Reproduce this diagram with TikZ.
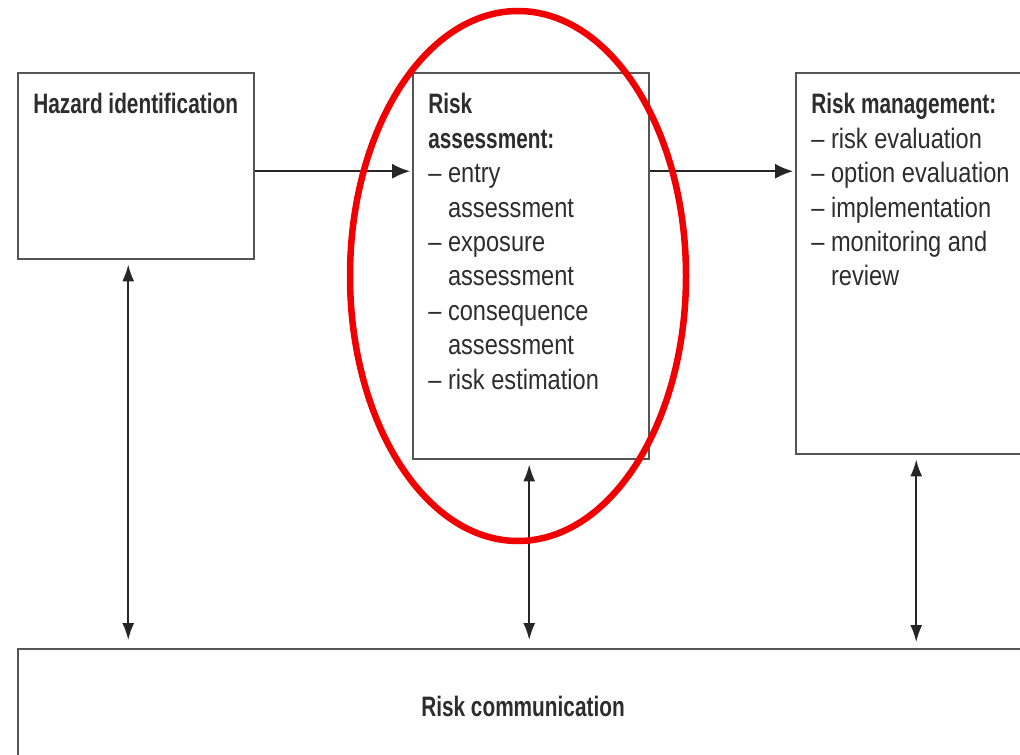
\documentclass[tikz,border=0pt]{standalone}
\usepackage{fontspec}
\setmainfont{Liberation Sans}[FakeStretch=0.84,BoldFeatures={FakeStretch=0.74}]
\usetikzlibrary{arrows.meta,positioning}
\definecolor{boxgray}{RGB}{85,85,85}
\definecolor{txtgray}{RGB}{45,45,45}
\definecolor{ringred}{RGB}{240,0,0}
\begin{document}
\begin{tikzpicture}[
  box/.style={draw=boxgray, line width=1.4pt, minimum width=4.72cm, anchor=north west, inner sep=0pt},
  lbl/.style={anchor=north west, align=left, inner sep=0pt, text=txtgray, font=\fontsize{16}{19.6}\selectfont},
  arr/.style={-{Latex[length=0.36cm,width=0.3cm]}, line width=1.4pt, draw=black!85},
  dbl/.style={{Latex[length=0.34cm,width=0.24cm]}-{Latex[length=0.34cm,width=0.24cm]}, line width=1pt, draw=black!85}]
\clip (0,0) rectangle (20.4,-15.1);
\node[box, minimum height=3.72cm] at (0.34,-1.44) (haz) {};
\node[box, minimum height=7.72cm] at (8.24,-1.44) (ra) {};
\node[box, minimum height=7.62cm] at (15.9,-1.44) (rm) {};
\node[box, minimum width=20.4cm, minimum height=3cm] at (0.34,-12.96) (com) {};
\node[lbl] at (0.66,-1.86) (hazt) {\textbf{Hazard identification}};
\node[lbl] at (8.56,-1.86) (rat) {\textbf{Risk}\\ \textbf{assessment:}\\
  – entry\\ \hphantom{– }assessment\\
  – exposure\\ \hphantom{– }assessment\\
  – consequence\\ \hphantom{– }assessment\\
  – risk estimation};
\node[lbl] at (16.22,-1.86) (rmt) {\textbf{Risk management:}\\
  – risk evaluation\\ – option evaluation\\ – implementation\\
  – monitoring and\\ \hphantom{– }review};
\node[lbl, anchor=center] at (10.46,-14.12) (comt) {\textbf{Risk communication}};
\coordinate (h1) at ([yshift=-0.1cm]haz.east);
\draw[arr, shorten >=1pt] (h1) -- (h1 -| ra.west);
\draw[arr, shorten >=1pt] (h1 -| ra.east) -- (h1 -| rm.west);
\coordinate (v1) at ([xshift=-0.16cm]haz.south);
\coordinate (v2) at ([xshift=-0.04cm]ra.south);
\coordinate (v3) at ([xshift=0.04cm]rm.south);
\draw[dbl, shorten <=0.08cm, shorten >=0.16cm] (v1) -- (v1 |- com.north);
\draw[dbl, shorten <=0.08cm, shorten >=0.16cm] (v2) -- (v2 |- com.north);
\draw[dbl, shorten <=0.08cm, shorten >=0.12cm] (v3) -- (v3 |- com.north);
\draw[ringred, line width=0.13cm] (10.36,-5.52) ellipse [x radius=3.36cm, y radius=5.3cm];
\end{tikzpicture}
\end{document}
